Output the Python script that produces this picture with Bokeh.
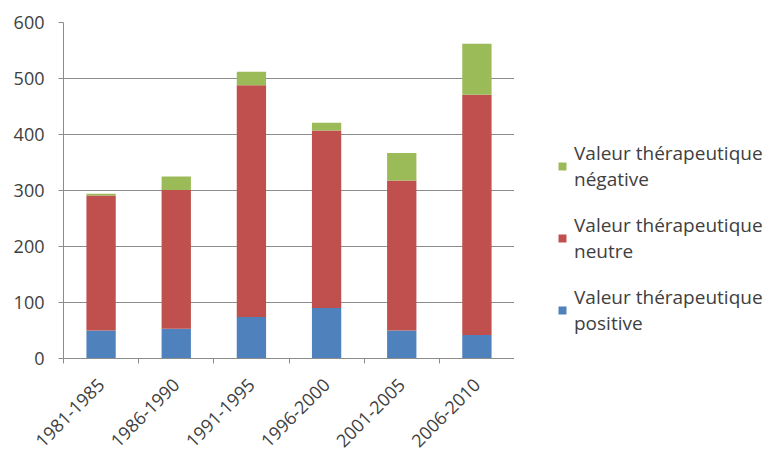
from bokeh.plotting import figure
from bokeh.models import ColumnDataSource, FixedTicker, Legend, LegendItem
from bokeh.layouts import row
from bokeh.embed import file_html
from bokeh.resources import INLINE
import math

categories = ["1981-1985", "1986-1990", "1991-1995", "1996-2000", "2001-2005", "2006-2010"]
positive = [50, 53, 74, 90, 50, 42]
neutre = [241, 248, 414, 317, 268, 429]
negative = [3, 24, 24, 14, 49, 91]
series_keys = ["positive", "neutre", "negative"]
series_labels = ["Valeur thérapeutique\npositive", "Valeur thérapeutique\nneutre", "Valeur thérapeutique\nnégative"]
colors = ["#4F81BD", "#C0504D", "#9BBB59"]
y_ticks = [0, 100, 200, 300, 400, 500, 600]

xpos = [i + 0.5 for i in range(len(categories))]
source = ColumnDataSource(dict(x=xpos, positive=positive, neutre=neutre, negative=negative))

FONT = "Open Sans"
TXT = "#404040"
GRID = "#8C8C8C"

p = figure(frame_width=451, frame_height=336, output_backend="svg", toolbar_location=None,
           x_range=(0, len(categories)), y_range=(0, 600),
           min_border_left=63, min_border_right=0, min_border_top=22, min_border_bottom=97)
p.outline_line_color = None
p.background_fill_color = "white"
p.border_fill_color = "white"

rs = p.vbar_stack(series_keys, x="x", width=0.39, source=source,
                  color=colors, line_color=None)

# axes
p.xaxis.ticker = FixedTicker(ticks=xpos, minor_ticks=list(range(len(categories) + 1)))
p.xaxis.major_label_overrides = {x: c for x, c in zip(xpos, categories)}
p.xaxis.major_tick_out = 0
p.xaxis.major_tick_in = 0
p.xaxis.minor_tick_out = 5
p.xaxis.minor_tick_in = 0
p.xaxis.minor_tick_line_color = GRID
p.xaxis.axis_line_color = GRID
p.xaxis.major_label_orientation = math.pi / 4
p.xaxis.major_label_standoff = 18

p.yaxis.ticker = FixedTicker(ticks=y_ticks)
p.yaxis.major_tick_out = 5
p.yaxis.major_tick_in = 0
p.yaxis.minor_tick_line_color = None
p.yaxis.axis_line_color = GRID
p.yaxis.major_tick_line_color = GRID
p.yaxis.major_label_standoff = 14

for ax in (p.xaxis, p.yaxis):
    ax.major_label_text_font = FONT
    ax.major_label_text_font_size = "18px"
    ax.major_label_text_color = TXT

p.xgrid.grid_line_color = None
p.ygrid.grid_line_color = GRID
p.ygrid.ticker = FixedTicker(ticks=y_ticks)

# legend panel (separate figure; its swatch renderers sit outside its visible range)
lf = figure(width=257, height=455, output_backend="svg", toolbar_location=None,
            x_range=(0, 1), y_range=(0, 1), min_border=0)
lf.axis.visible = False
lf.grid.visible = False
lf.outline_line_color = None
lf.border_fill_color = "white"
lrs = [lf.vbar(x=[5], top=[5], bottom=[4], width=0.1, color=c, line_color=None) for c in colors]

items = [LegendItem(label=series_labels[i], renderers=[lrs[i]]) for i in (2, 1, 0)]
legend = Legend(items=items, location=(43, 21), orientation="vertical",
                border_line_color=None, background_fill_alpha=0,
                glyph_width=10, glyph_height=10, label_standoff=7, spacing=20,
                padding=0, margin=0,
                label_text_font=FONT, label_text_font_size="19px", label_text_color=TXT,
                label_text_line_height=1.7)
lf.add_layout(legend, "center")

layout = row(p, lf, spacing=0)
open("out.html", "w").write(file_html(layout, INLINE))
